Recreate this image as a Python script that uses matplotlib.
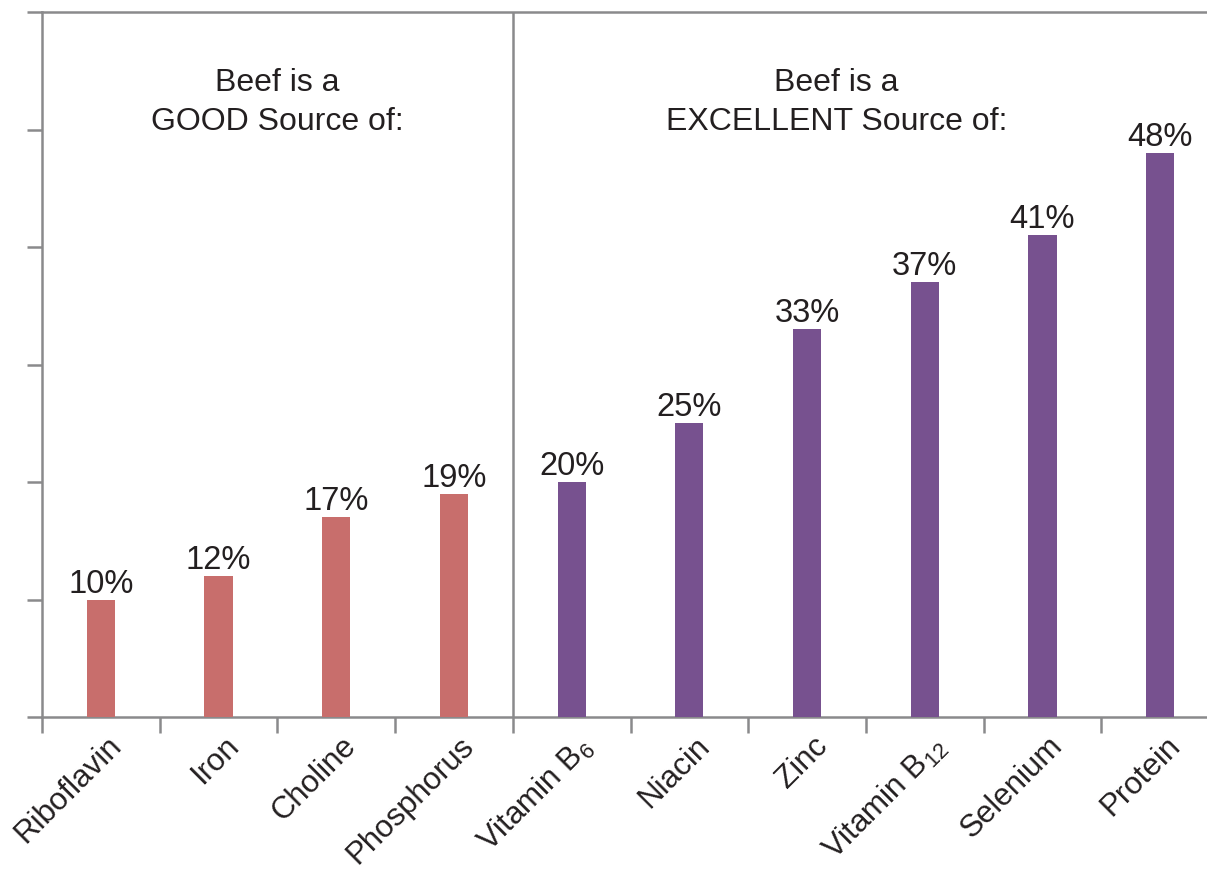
import matplotlib
matplotlib.use("Agg")
import matplotlib.pyplot as plt
from matplotlib.transforms import ScaledTranslation

plt.rcParams['font.family'] = ['Liberation Sans', 'DejaVu Sans']
plt.rcParams['mathtext.fontset'] = 'custom'
plt.rcParams['mathtext.rm'] = 'Liberation Sans'
plt.rcParams['mathtext.it'] = 'Liberation Sans'

categories = ["Riboflavin", "Iron", "Choline", "Phosphorus",
              "Vitamin B$\\mathregular{_6}$", "Niacin", "Zinc",
              "Vitamin B$\\mathregular{_{12}}$", "Selenium", "Protein"]
values = [10, 12, 17, 19, 20, 25, 33, 37, 41, 48]
groups = ["good"] * 4 + ["excellent"] * 6
group_titles = {"good": "Beef is a\nGOOD Source of:",
                "excellent": "Beef is a\nEXCELLENT Source of:"}
colors = {"good": "#C86E6C", "excellent": "#77518F"}
yticks = [0, 10, 20, 30, 40, 50, 60]

gray = "#8A8A8C"
txt = "#231F20"

fig = plt.figure(figsize=(12.07, 8.73), dpi=100)
W, H = 1207, 873
ax = fig.add_axes([42 / W, (873 - 717) / H, (1219 - 42) / W, (717 - 12) / H])

x = list(range(len(categories)))
ax.bar(x, values, width=0.24, color=[colors[g] for g in groups], zorder=3)

for xi, v in zip(x, values):
    ax.annotate(f"{v}%", (xi, v), xytext=(0, 5), textcoords="offset points",
                ha="center", va="baseline", fontsize=23.5, color=txt)

ax.set_xlim(-0.5, len(categories) - 0.5)
ax.set_ylim(0, 60)

# group titles
ax.text(1.5, 52.3, group_titles["good"], ha="center", va="center",
        fontsize=23, color=txt, linespacing=1.38)
ax.text(6.25, 52.3, group_titles["excellent"], ha="center", va="center",
        fontsize=23, color=txt, linespacing=1.38)

# divider
ax.axvline(3.5, color=gray, lw=1.8, zorder=2)

ax.spines["right"].set_visible(False)
for s in ["left", "top", "bottom"]:
    ax.spines[s].set_color(gray)
    ax.spines[s].set_linewidth(1.8)

ax.set_yticks(yticks)
ax.set_yticklabels([])
ax.tick_params(axis="y", direction="out", length=11, width=1.8, color=gray)

bounds = [i - 0.5 for i in range(len(categories) + 1)]
ax.set_xticks(bounds)
ax.set_xticklabels([])
ax.tick_params(axis="x", which="major", direction="out", length=11.5, width=1.8, color=gray)
ax.set_xticks(x, minor=True)
ax.set_xticklabels(categories, minor=True, rotation=45, ha="right",
                   rotation_mode="anchor", fontsize=22.5, color=txt)
ax.tick_params(axis="x", which="minor", length=0, pad=10)
shift = ScaledTranslation(5 / 100, 0, fig.dpi_scale_trans)
for lab in ax.get_xticklabels(minor=True):
    lab.set_transform(lab.get_transform() + shift)

fig.savefig("out.png", dpi=100)
